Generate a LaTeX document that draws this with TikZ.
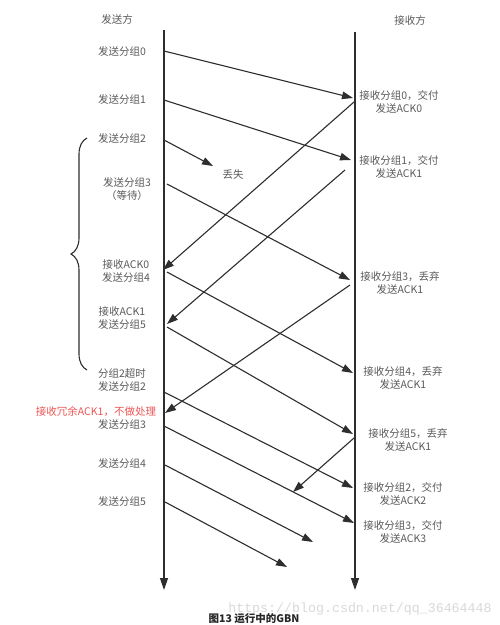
\documentclass[tikz,border=0pt]{standalone}
\usepackage{fontspec}
\newfontfamily\cjk{Noto Sans CJK SC}
\newfontfamily\wmfont{Liberation Mono}
\usetikzlibrary{arrows.meta,decorations.pathreplacing}
\definecolor{txtgray}{HTML}{5A5A5A}
\definecolor{linegray}{HTML}{2E2E2E}
\definecolor{dropred}{HTML}{EE5555}
\tikzset{
  lbl/.style={text=txtgray,font=\cjk\fontsize{10.5}{13.5}\selectfont,align=center,inner sep=0pt},
  msg/.style={draw=linegray,line width=1.1pt,-{Triangle[length=11pt,width=7.5pt]}},
  life/.style={draw=linegray,line width=1.3pt,-{Triangle[length=12pt,width=8pt]}}
}
\begin{document}
\begin{tikzpicture}[x=1pt,y=-1pt]
\useasboundingbox[fill=white] (0,0) rectangle (500,625);
% lifelines
\coordinate (sTop) at (164,30); \coordinate (sBot) at (164,590);
\coordinate (rTop) at (355,32); \coordinate (rBot) at (355,590);
\draw[life] (sTop) -- (sBot);
\draw[life] (rTop) -- (rBot);
\node[lbl] (sender) at (117,19) {发送方};
\node[lbl] (receiver) at (410,20) {接收方};
% sender side
\node[lbl] (send0) at (122,51) {发送分组0};
\node[lbl] (send1) at (122,99) {发送分组1};
\node[lbl] (send2) at (122,138) {发送分组2};
\node[lbl] (send3) at (127,189) {发送分组3\\（等待）};
\node[lbl] (gotack0) at (126,271) {接收ACK0\\发送分组4};
\node[lbl] (gotack1) at (122,318) {接收ACK1\\发送分组5};
\node[lbl] (timeout) at (122,380) {分组2超时\\发送分组2};
\node[lbl,text=dropred] (dupack) at (96,412) {接收冗余ACK1，不做处理};
\node[lbl] (resend3) at (122,424) {发送分组3};
\node[lbl] (resend4) at (122,463) {发送分组4};
\node[lbl] (resend5) at (122,501) {发送分组5};
\node[lbl] (lost) at (233,175) {丢失};
% receiver side
\node[lbl] (recv0) at (399,102) {接收分组0，交付\\发送ACK0};
\node[lbl] (recv1) at (399,167) {接收分组1，交付\\发送ACK1};
\node[lbl] (recv3) at (400,283) {接收分组3，丢弃\\发送ACK1};
\node[lbl] (recv4) at (403,378) {接收分组4，丢弃\\发送ACK1};
\node[lbl] (recv5) at (408,440) {接收分组5，丢弃\\发送ACK1};
\node[lbl] (recv2b) at (403,494) {接收分组2，交付\\发送ACK2};
\node[lbl] (recv3b) at (403,532) {接收分组3，交付\\发送ACK3};
% message end points
\coordinate (p0s) at (164,51);  \coordinate (p0r) at (353,98);
\coordinate (p1s) at (164,100); \coordinate (p1r) at (351,160);
\coordinate (p2s) at (164,140); \coordinate (p2x) at (213,166);
\coordinate (p3s) at (167,184); \coordinate (p3r) at (350,280);
\coordinate (a0r) at (354,102); \coordinate (a0s) at (163,270);
\coordinate (a1r) at (345,170); \coordinate (a1s) at (167,324);
\coordinate (p4s) at (167,272); \coordinate (p4r) at (353,373);
\coordinate (p5s) at (167,327); \coordinate (p5r) at (353,434);
\coordinate (b1r) at (350,285); \coordinate (b1s) at (165,413);
\coordinate (q2s) at (164,392); \coordinate (q2r) at (353,488);
\coordinate (c1r) at (354,438); \coordinate (c1x) at (293,492);
\coordinate (q3s) at (164,426); \coordinate (q3r) at (354,523);
\coordinate (q4s) at (165,465); \coordinate (q4x) at (313,542);
\coordinate (q5s) at (165,502); \coordinate (q5x) at (287,567);
\foreach \a/\b in {p0s/p0r,p1s/p1r,p2s/p2x,p3s/p3r,a0r/a0s,a1r/a1s,p4s/p4r,p5s/p5r,
  b1r/b1s,q2s/q2r,c1r/c1x,q3s/q3r,q4s/q4x,q5s/q5x}
  \draw[msg] (\a) -- (\b);
% timer brace
\coordinate (braceBot) at (87,370); \coordinate (braceTop) at (87,138);
\draw[linegray,line width=1.1pt,decorate,decoration={brace,amplitude=16pt}] (braceBot) -- (braceTop);
% caption
\node[inner sep=0pt,text=black!15,font=\wmfont\fontsize{13.3}{14}\selectfont] (mark) at (360,609) {https://blog.csdn.net/qq\_36464448};
\node[inner sep=0pt,text=black!85,font=\cjk\bfseries\fontsize{10.5}{12}\selectfont] (caption) at (254,619) {图13 运行中的GBN};
\end{tikzpicture}
\end{document}
